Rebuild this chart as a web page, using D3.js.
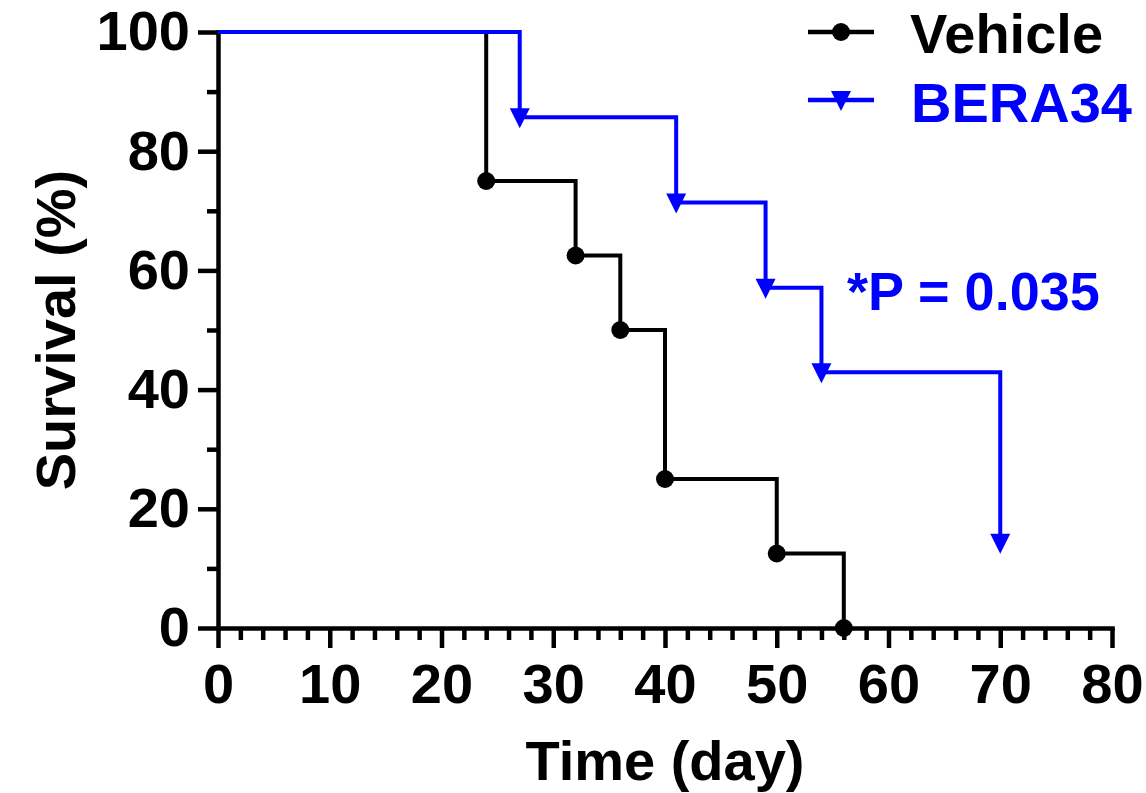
<!DOCTYPE html>
<html>
<head>
<meta charset="utf-8">
<script src="https://cdn.jsdelivr.net/npm/d3@7"></script>
<style>
html,body{margin:0;padding:0;background:#fff;}
svg{display:block;}
text{font-family:"Liberation Sans",Arial,Helvetica,sans-serif;font-weight:bold;}
</style>
</head>
<body>
<svg id="chart" width="1146" height="793"></svg>
<script>
// ---- data ----
const vehicleTimes = [0, 24, 32, 36, 40, 50, 56];
const vehicleSurvival = [100, 75, 62.5, 50, 25, 12.5, 0];
const beraTimes = [0, 27, 41, 49, 54, 70];
const beraSurvival = [100, 85.7, 71.4, 57.1, 42.9, 14.3];
const seriesNames = ["Vehicle", "BERA34"];
const xMajorTicks = [0, 10, 20, 30, 40, 50, 60, 70, 80];
const xMinorTicks = d3.range(0, 81, 2).filter(v => v % 10 !== 0);
const yMajorTicks = [0, 20, 40, 60, 80, 100];
const yMinorTicks = [10, 30, 50, 70, 90];
const pValueText = "*P = 0.035";

const BLUE = "#0000ff";
const svg = d3.select("#chart");
const x = d3.scaleLinear().domain([0, 80]).range([218, 1112]);
const y = d3.scaleLinear().domain([0, 100]).range([628, 32]);

// ---- axes ----
function styleAxis(g, fs) {
  g.selectAll("path.domain").attr("stroke", "#000").attr("stroke-width", 4.5);
  g.selectAll(".tick line").attr("stroke", "#000").attr("stroke-width", 4.5);
  g.selectAll(".tick text").attr("fill", "#000").style("font-size", fs + "px").style("font-family", '"Liberation Sans",Arial,sans-serif').style("font-weight", "bold");
}
// minor ticks
const gxMin = svg.append("g").attr("transform", `translate(0,${y(0)})`)
  .call(d3.axisBottom(x).tickValues(xMinorTicks).tickSize(12).tickSizeOuter(0).tickFormat(""));
styleAxis(gxMin, 56); gxMin.select("path.domain").remove();
const gyMin = svg.append("g").attr("transform", `translate(${x(0)},0)`)
  .call(d3.axisLeft(y).tickValues(yMinorTicks).tickSize(11).tickSizeOuter(0).tickFormat(""));
styleAxis(gyMin, 56); gyMin.select("path.domain").remove();
// major
const gx = svg.append("g").attr("transform", `translate(0,${y(0)})`)
  .call(d3.axisBottom(x).tickValues(xMajorTicks).tickSize(20).tickSizeOuter(0).tickPadding(15).tickFormat(d3.format("d")));
styleAxis(gx, 56);
const gy = svg.append("g").attr("transform", `translate(${x(0)},0)`)
  .call(d3.axisLeft(y).tickValues(yMajorTicks).tickSize(20).tickSizeOuter(0).tickPadding(8).tickFormat(d3.format("d")));
styleAxis(gy, 56);
gx.select("path.domain").attr("stroke-linecap", "square");
gy.select("path.domain").attr("stroke-linecap", "square");

// axis titles
svg.append("text").attr("x", (x(0) + x(80)) / 2).attr("y", 780)
  .attr("text-anchor", "middle").style("font-size", "56px").attr("fill", "#000").text("Time (day)");
svg.append("text").attr("transform", `translate(75,${(y(0) + y(100)) / 2}) rotate(-90)`)
  .attr("text-anchor", "middle").style("font-size", "56px").attr("fill", "#000").text("Survival (%)");

// ---- step curves ----
function stepPoints(times, surv) {
  const pts = [[times[0], surv[0]]];
  for (let i = 1; i < times.length; i++) {
    pts.push([times[i], surv[i - 1]]);
    pts.push([times[i], surv[i]]);
  }
  return pts;
}
const line = d3.line().x(d => x(d[0])).y(d => y(d[1]));

const triDown = {
  draw(ctx, size) {
    const w = 10, top = 9, bot = 11;
    ctx.moveTo(-w, -top); ctx.lineTo(w, -top); ctx.lineTo(0, bot); ctx.closePath();
  }
};

// Vehicle
svg.append("path").datum(stepPoints(vehicleTimes, vehicleSurvival))
  .attr("d", line).attr("fill", "none").attr("stroke", "#000").attr("stroke-width", 4)
  .attr("stroke-linejoin", "miter");
svg.selectAll("circle.veh").data(vehicleTimes.slice(1).map((t, i) => [t, vehicleSurvival[i + 1]]))
  .enter().append("circle").attr("class", "veh")
  .attr("cx", d => x(d[0])).attr("cy", d => y(d[1])).attr("r", 9).attr("fill", "#000");

// BERA34
svg.append("path").datum(stepPoints(beraTimes, beraSurvival))
  .attr("d", line).attr("fill", "none").attr("stroke", BLUE).attr("stroke-width", 4)
  .attr("stroke-linejoin", "miter");
svg.selectAll("path.bera").data(beraTimes.slice(1).map((t, i) => [t, beraSurvival[i + 1]]))
  .enter().append("path").attr("class", "bera")
  .attr("transform", d => `translate(${x(d[0])},${y(d[1])})`)
  .attr("d", d3.symbol().type(triDown)).attr("fill", BLUE);

// ---- legend ----
const leg = svg.append("g");
leg.append("line").attr("x1", 808).attr("x2", 874).attr("y1", 32).attr("y2", 32)
  .attr("stroke", "#000").attr("stroke-width", 4.5);
leg.append("circle").attr("cx", 841).attr("cy", 32).attr("r", 9).attr("fill", "#000");
leg.append("text").attr("x", 910).attr("y", 53).style("font-size", "56px").attr("fill", "#000").text(seriesNames[0]);
leg.append("line").attr("x1", 808).attr("x2", 874).attr("y1", 100).attr("y2", 100)
  .attr("stroke", BLUE).attr("stroke-width", 4.5);
leg.append("path").attr("transform", "translate(841,100)").attr("d", d3.symbol().type(triDown)).attr("fill", BLUE);
leg.append("text").attr("x", 911).attr("y", 122).style("font-size", "56px").attr("fill", BLUE).text(seriesNames[1]);

// p-value
svg.append("text").attr("x", 847).attr("y", 310).style("font-size", "54px").attr("fill", BLUE).text(pValueText);
</script>
</body>
</html>
